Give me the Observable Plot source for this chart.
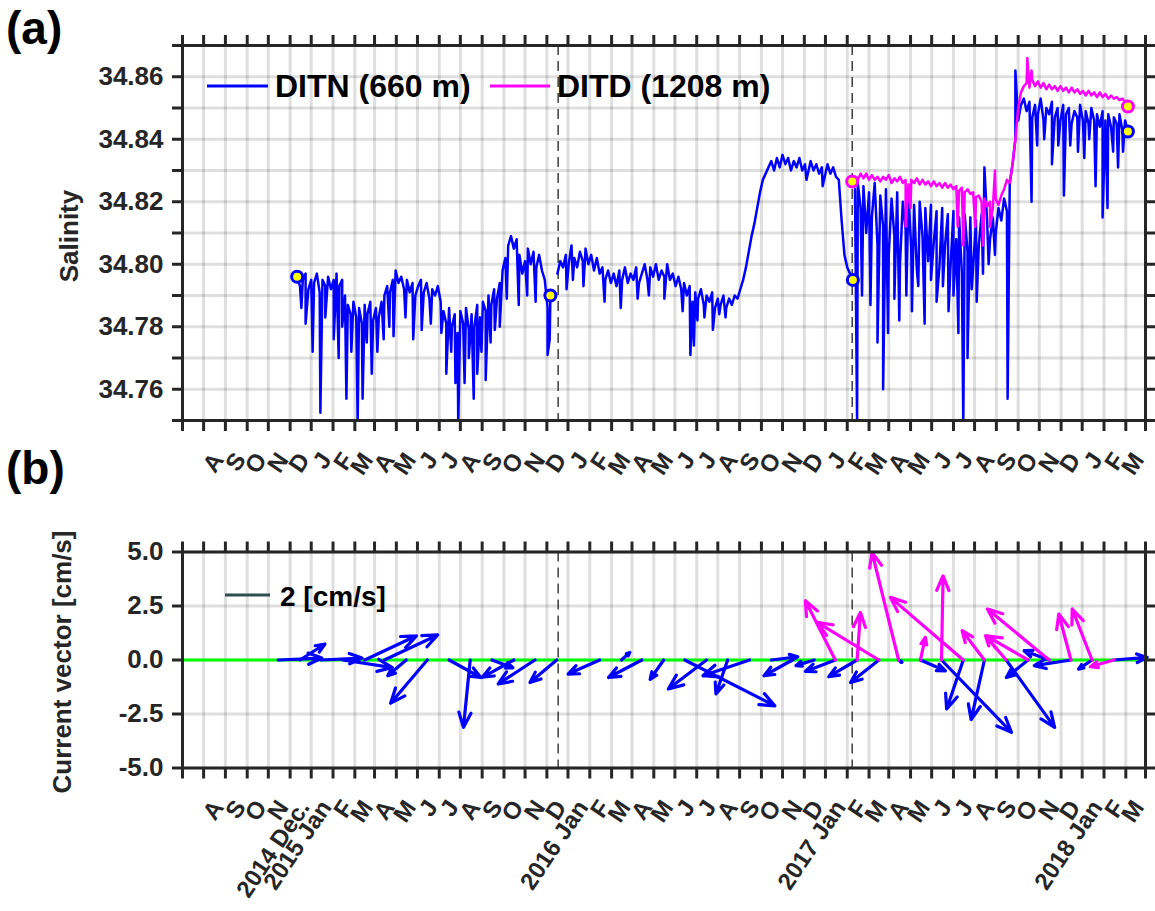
<!DOCTYPE html>
<html>
<head>
<meta charset="utf-8">
<script src="https://cdn.jsdelivr.net/npm/d3@7"></script>
<script src="https://cdn.jsdelivr.net/npm/@observablehq/plot@0.6"></script>
<style>
  html, body { margin: 0; padding: 0; background: #ffffff; }
  #chart { position: relative; width: 1155px; height: 911px; overflow: hidden; background: #ffffff;
           font-family: "Liberation Sans", Arial, Helvetica, sans-serif; }
  #panelA, #panelB { position: absolute; left: 0; }
  #panelA { top: 0; }
  #panelB { top: 530px; }
  #overlay { position: absolute; left: 0; top: 0; pointer-events: none; }
</style>
</head>
<body>
<div id="chart">
  <div id="panelA"></div>
  <div id="panelB"></div>
  <svg id="overlay" width="1155" height="911" font-family="Liberation Sans, Arial, Helvetica, sans-serif" font-weight="bold">
    <text x="6" y="44" font-size="46" fill="#000">(a)</text>
    <text x="6" y="484" font-size="46" fill="#000">(b)</text>
    <text transform="translate(78,236) rotate(-90)" text-anchor="middle" font-size="26" fill="#262626">Salinity</text>
    <text transform="translate(71,662) rotate(-90)" text-anchor="middle" font-size="26" fill="#262626">Current vector [cm/s]</text>
    <line x1="207" y1="86" x2="268" y2="86" stroke="#0000ff" stroke-width="3"/>
    <text x="275" y="97" font-size="32" fill="#000">DITN (660 m)</text>
    <line x1="490" y1="86" x2="550" y2="86" stroke="#ff00ff" stroke-width="3"/>
    <text x="557" y="97" font-size="32" fill="#000">DITD (1208 m)</text>
    <line x1="225" y1="595" x2="270" y2="595" stroke="#2f4f4f" stroke-width="3"/>
    <text x="280" y="606" font-size="28" fill="#000">2 [cm/s]</text>
  </svg>
</div>
<script>
// ---------------- axes / categories ----------------
const xStart = "2014-06-01";
const xEnd = "2018-03-01";
const firstLabelMonth = "2014-08-01";
const monthLetters = ["A","S","O","N","D",
  "J","F","M","A","M","J","J","A","S","O","N","D",
  "J","F","M","A","M","J","J","A","S","O","N","D",
  "J","F","M","A","M","J","J","A","S","O","N","D",
  "J","F","M"];
const monthLabelsB = ["A","S","O","N","2014 Dec.",
  "2015 Jan","F","M","A","M","J","J","A","S","O","N","D",
  "2016 Jan","F","M","A","M","J","J","A","S","O","N","D",
  "2017 Jan","F","M","A","M","J","J","A","S","O","N","D",
  "2018 Jan","F","M"];
const salinityTicks = [34.75,34.76,34.77,34.78,34.79,34.80,34.81,34.82,34.83,34.84,34.85,34.86,34.87];
const salinityLabelTicks = [34.76,34.78,34.80,34.82,34.84,34.86];
const currentTicks = [-5,-2.5,0,2.5,5];
const deploymentLines = ["2015-11-17","2017-01-08"];

// ---------------- salinity series (sampled every 4 days) ----------------
const sampleStepDays = 4;
const ditn1Start = "2014-11-11";
const ditn1Values = [
 34.796,34.793,34.795,34.797,34.792,34.795,34.794,34.797,34.791,34.795,
 34.793,34.796,34.792,34.795,34.797,34.793,34.795,34.790,34.787,34.784,
 34.788,34.783,34.786,34.781,34.787,34.784,34.788,34.782,34.786,34.783,
 34.788,34.790,34.793,34.791,34.795,34.798,34.794,34.796,34.792,34.795,
 34.791,34.794,34.790,34.793,34.795,34.791,34.794,34.789,34.792,34.790,
 34.793,34.788,34.785,34.781,34.786,34.780,34.784,34.778,34.785,34.781,
 34.786,34.779,34.784,34.780,34.787,34.783,34.788,34.785,34.790,34.787,
 34.792,34.789,34.794,34.798,34.802,34.806,34.809,34.805,34.808,34.803,
 34.797,34.801,34.805,34.800,34.804,34.799,34.803,34.798,34.795,34.786,
 34.790];
const ditn1SpikeDates = ["2014-11-17","2014-11-23","2014-12-03","2014-12-14","2014-12-21","2015-01-02","2015-01-09","2015-01-14","2015-01-20","2015-01-27","2015-02-05","2015-02-12","2015-02-18","2015-02-25","2015-03-05","2015-03-14","2015-03-22","2015-03-28","2015-04-14","2015-04-25","2015-05-07","2015-05-20","2015-06-04","2015-06-11","2015-06-18","2015-06-24","2015-06-28","2015-07-07","2015-07-13","2015-07-20","2015-07-25","2015-07-31","2015-08-06","2015-08-13","2015-08-19","2015-08-26","2015-09-05","2015-09-22","2015-10-04","2015-10-16","2015-11-02","2015-11-05"];
const ditn1SpikeValues = [34.786,34.781,34.772,34.7525,34.783,34.776,34.770,34.780,34.757,34.772,34.749,34.757,34.775,34.765,34.772,34.776,34.780,34.777,34.783,34.776,34.779,34.781,34.778,34.765,34.772,34.762,34.749,34.762,34.770,34.757,34.765,34.772,34.763,34.775,34.779,34.780,34.789,34.787,34.790,34.788,34.771,34.776];

const ditn2Start = "2015-11-16";
const ditn2Values = [
 34.797,34.801,34.799,34.803,34.800,34.806,34.802,34.799,34.804,34.801,
 34.805,34.800,34.803,34.798,34.802,34.797,34.799,34.795,34.798,34.794,
 34.797,34.793,34.798,34.795,34.799,34.794,34.797,34.795,34.799,34.794,
 34.797,34.800,34.795,34.799,34.796,34.800,34.795,34.798,34.796,34.800,
 34.795,34.797,34.793,34.796,34.792,34.794,34.790,34.793,34.788,34.791,
 34.789,34.792,34.787,34.790,34.788,34.791,34.786,34.789,34.787,34.790,
 34.786,34.789,34.787,34.790,34.789,34.792,34.795,34.799,34.804,34.809,
 34.813,34.818,34.823,34.827,34.829,34.831,34.833,34.830,34.834,34.831,
 34.835,34.832,34.834,34.830,34.833,34.831,34.834,34.830,34.832,34.829,
 34.833,34.830,34.832,34.829,34.831,34.828,34.832,34.829,34.831,34.828,
 34.827,34.814,34.803,34.799,34.797,34.795];
const ditn2SpikeDates = ["2015-11-29","2015-12-08","2015-12-23","2016-01-22","2016-02-14","2016-03-09","2016-03-25","2016-04-16","2016-05-12","2016-05-23","2016-05-28","2016-06-02","2016-06-12","2016-06-24","2016-07-03","2016-07-12","2016-11-04","2016-11-27"];
const ditn2SpikeValues = [34.792,34.795,34.793,34.788,34.786,34.789,34.790,34.789,34.785,34.771,34.774,34.782,34.783,34.779,34.784,34.783,34.827,34.825];

const ditn3Start = "2017-01-12";
const ditn3Values = [
 34.824,34.826,34.818,34.825,34.810,34.823,34.815,34.826,34.806,34.822,
 34.812,34.824,34.803,34.821,34.809,34.823,34.800,34.820,34.811,34.822,
 34.805,34.819,34.798,34.820,34.809,34.818,34.801,34.819,34.807,34.817,
 34.799,34.818,34.806,34.816,34.800,34.817,34.808,34.815,34.797,34.816,
 34.804,34.815,34.799,34.814,34.806,34.816,34.831,34.813,34.808,34.815,
 34.810,34.818,34.814,34.821,34.817,34.826,34.832,34.840,34.846,34.851,
 34.853,34.849,34.852,34.847,34.851,34.848,34.853,34.846,34.850,34.848,
 34.852,34.847,34.850,34.846,34.851,34.848,34.850,34.845,34.849,34.847,
 34.851,34.846,34.849,34.845,34.850,34.846,34.848,34.844,34.849,34.846,
 34.848,34.844,34.847,34.845,34.848,34.843,34.846,34.8425];
const ditn3SpikeDates = ["2017-01-15","2017-01-22","2017-02-03","2017-02-13","2017-02-21","2017-02-28","2017-03-09","2017-03-16","2017-03-26","2017-04-03","2017-04-12","2017-04-21","2017-04-30","2017-05-08","2017-05-17","2017-05-25","2017-06-01","2017-06-08","2017-06-15","2017-06-21","2017-06-27","2017-07-04","2017-07-13","2017-07-21","2017-07-30","2017-08-17","2017-08-28","2017-09-20","2017-09-28","2017-10-08","2017-10-19","2017-10-28","2017-11-05","2017-11-14","2017-11-25","2017-12-04","2017-12-11","2017-12-20","2017-12-30","2018-01-06","2018-01-14","2018-01-21","2018-01-28"];
const ditn3SpikeValues = [34.749,34.790,34.787,34.775,34.760,34.778,34.789,34.782,34.790,34.785,34.793,34.781,34.795,34.788,34.793,34.785,34.790,34.778,34.749,34.770,34.792,34.788,34.797,34.800,34.803,34.757,34.862,34.820,34.838,34.840,34.832,34.838,34.822,34.838,34.836,34.834,34.840,34.825,34.815,34.818,34.836,34.831,34.836];

const ditdStart = "2017-01-08";
const ditdValues = [
 34.8265,34.828,34.827,34.829,34.8275,34.829,34.827,34.8285,34.827,34.828,
 34.8265,34.828,34.827,34.8285,34.826,34.8275,34.8265,34.828,34.826,34.827,
 34.8255,34.827,34.826,34.8275,34.8255,34.827,34.8255,34.8265,34.825,34.8265,
 34.825,34.826,34.8245,34.826,34.8245,34.8255,34.824,34.825,34.8235,34.8245,
 34.823,34.824,34.8225,34.823,34.8215,34.822,34.820,34.821,34.8185,34.820,
 34.818,34.821,34.819,34.822,34.824,34.827,34.826,34.832,34.840,34.850,
 34.855,34.857,34.858,34.8565,34.859,34.857,34.8585,34.8565,34.858,34.856,
 34.8575,34.856,34.857,34.8555,34.857,34.8555,34.8565,34.855,34.8565,34.855,
 34.856,34.8545,34.8555,34.854,34.8555,34.854,34.855,34.8535,34.855,34.8535,
 34.8545,34.853,34.854,34.853,34.8535,34.8525,34.853,34.852,34.8505];
const ditdSpikeDates = ["2017-03-25","2017-04-01","2017-06-07","2017-06-15","2017-07-02","2017-07-13","2017-07-23","2017-07-30","2017-09-14","2017-09-20"];
const ditdSpikeValues = [34.812,34.818,34.812,34.806,34.812,34.806,34.812,34.830,34.866,34.862];

// ---------------- monthly current vectors (cm/s) ----------------
const blueArrowDates = ["2014-10-15","2014-11-15","2014-12-15","2015-01-15","2015-02-15","2015-03-15","2015-04-15","2015-05-15","2015-06-15","2015-07-15","2015-08-15","2015-09-15","2015-10-15","2015-11-15","2016-01-15","2016-02-15","2016-03-15","2016-04-15","2016-05-15","2016-06-15","2016-07-15","2016-08-15","2016-09-15","2016-10-15","2016-11-15","2016-12-15","2017-01-15","2017-02-15","2017-03-15","2017-04-15","2017-05-15","2017-06-15","2017-07-15","2017-08-15","2017-09-15","2017-10-15","2017-11-15","2017-12-15","2018-01-15"];
const blueU = [1.94,1.11,1.82,2.2,2.3,2.37,-0.82,-1.63,1.41,-0.3,0.93,-1.4,-1.63,-1.19,-1.4,0.37,-1.48,-0.6,4.0,-1.7,-0.52,-2.07,1.18,-1.26,-0.81,-1.33,-1.26,-1.26,0.15,1.11,3.11,-0.74,-0.59,2.15,-0.96,-1.11,-1.63,-0.6,1.48];
const blueV = [0.09,0.74,0.09,-0.35,1.12,1.16,-0.73,-2.0,-0.81,-3.12,-0.36,-0.8,-1.11,-1.04,-0.65,0.35,-0.81,-0.9,-2.12,-1.34,-1.57,-0.73,0.15,-0.73,-0.26,-0.53,-0.77,-1.04,-0.11,-0.5,-3.35,-2.27,-2.76,-3.12,-0.81,0.43,-0.26,-0.42,0.12];
const magentaArrowDates = ["2016-12-15","2017-01-15","2017-02-15","2017-03-15","2017-04-15","2017-05-15","2017-06-15","2017-07-15","2017-08-15","2017-09-15","2017-10-15","2017-11-15","2017-12-15","2018-01-15"];
const magentaU = [-1.33,0.15,-2.74,-1.18,0.22,0.07,-3.24,-0.99,-0.92,-1.85,-2.74,-0.54,-0.88,-1.04];
const magentaV = [2.75,2.2,1.74,4.98,1.05,3.9,2.9,1.36,1.12,1.12,2.36,2.13,2.36,-0.31];
const daysPerCmS = 32; // quiver scale: horizontal length of 1 cm/s, in days

// ---------------- build ----------------
const DAY = 864e5;
const parse = s => new Date(s + "T00:00:00Z");
function buildSeries(start, values, spikeDates, spikeValues) {
  const t0 = parse(start).getTime();
  const pts = values.map((v, i) => ({date: new Date(t0 + i * sampleStepDays * DAY), value: v}));
  spikeDates.forEach((d, i) => pts.push({date: parse(d), value: spikeValues[i]}));
  return pts.sort((a, b) => a.date - b.date);
}
const ends = (start, values) => {
  const t0 = parse(start).getTime();
  return [{date: new Date(t0), value: values[0]},
          {date: new Date(t0 + (values.length - 1) * sampleStepDays * DAY), value: values[values.length - 1]}];
};
const ditn1 = buildSeries(ditn1Start, ditn1Values, ditn1SpikeDates, ditn1SpikeValues);
const ditn2 = buildSeries(ditn2Start, ditn2Values, ditn2SpikeDates, ditn2SpikeValues);
const ditn3 = buildSeries(ditn3Start, ditn3Values, ditn3SpikeDates, ditn3SpikeValues);
const ditd = buildSeries(ditdStart, ditdValues, ditdSpikeDates, ditdSpikeValues);
const blueMarkers = [...ends(ditn1Start, ditn1Values), ends(ditn2Start, ditn2Values)[1], ends(ditn3Start, ditn3Values)[1]];
const pinkMarkers = ends(ditdStart, ditdValues);

const monthTicks = d3.utcMonth.range(parse(xStart), new Date(parse(xEnd).getTime() + DAY));
const labelMonths = d3.utcMonth.range(parse(firstLabelMonth), new Date(parse(xEnd).getTime() + DAY));
const dashDates = deploymentLines.map(parse);

const toArrows = (dates, U, V) => dates.map((d, i) => ({date: parse(d), u: U[i], v: V[i]}));
const blueArrows = toArrows(blueArrowDates, blueU, blueV);
const magentaArrows = toArrows(magentaArrowDates, magentaU, magentaV);

const font = "Liberation Sans, Arial, Helvetica, sans-serif";
const axisColor = "#262626";
const gridOpts = {stroke: axisColor, strokeOpacity: 0.15, strokeWidth: 3};
const xScale = {type: "utc", domain: [parse(xStart), parse(xEnd)], label: null};
const style = {background: "transparent", fontFamily: font, fontSize: "26px", fontWeight: "bold", color: axisColor, overflow: "visible"};

function frameAxes(yTicks, yLabelTicks, yFormat, labels) {
  return [
    Plot.frame({stroke: axisColor, strokeWidth: 3}),
    Plot.axisX({ticks: monthTicks, anchor: "bottom", tickSize: 11, stroke: axisColor, strokeWidth: 3, fill: "none", label: null}),
    Plot.axisX({ticks: monthTicks, anchor: "top", tickSize: 11, stroke: axisColor, strokeWidth: 3, fill: "none", label: null}),
    Plot.axisY({ticks: yTicks, anchor: "left", tickSize: 10, stroke: axisColor, strokeWidth: 3, fill: "none", label: null}),
    Plot.axisY({ticks: yTicks, anchor: "right", tickSize: 10, stroke: axisColor, strokeWidth: 3, fill: "none", label: null}),
    Plot.axisY({ticks: yLabelTicks, anchor: "left", tickSize: 0, tickPadding: 19, tickFormat: yFormat, fill: axisColor, fontSize: 26, fontWeight: "bold", label: null}),
    Plot.text(labelMonths, {x: d => d, text: (d, i) => labels[i], frameAnchor: "bottom", dx: -7, dy: 35,
      rotate: -56, textAnchor: "end", lineAnchor: "middle", fontSize: 24, fontWeight: "bold", fill: axisColor})
  ];
}

const lineOpts = {x: "date", y: "value", strokeWidth: 2.5, clip: true, strokeLinejoin: "round"};
const plotA = Plot.plot({
  width: 1155, height: 530,
  marginLeft: 182, marginRight: 10, marginTop: 45, marginBottom: 110,
  x: xScale,
  y: {domain: [34.75, 34.87], label: null},
  style,
  marks: [
    Plot.ruleX(monthTicks, gridOpts),
    Plot.ruleY(salinityTicks, gridOpts),
    Plot.ruleX(dashDates, {stroke: "#222", strokeWidth: 1.3, strokeDasharray: "10,6"}),
    Plot.line(ditn1, {...lineOpts, stroke: "#0000ff"}),
    Plot.line(ditn2, {...lineOpts, stroke: "#0000ff"}),
    Plot.line(ditn3, {...lineOpts, stroke: "#0000ff"}),
    Plot.line(ditd, {...lineOpts, stroke: "#ff00ff"}),
    Plot.dot(blueMarkers, {x: "date", y: "value", r: 5.5, fill: "#ffff00", stroke: "#0000ff", strokeWidth: 3}),
    Plot.dot(pinkMarkers, {x: "date", y: "value", r: 5.5, fill: "#ffff00", stroke: "#ff00ff", strokeWidth: 3}),
    ...frameAxes(salinityTicks, salinityLabelTicks, d => d.toFixed(2), monthLetters)
  ]
});
document.getElementById("panelA").appendChild(plotA);

const arrowOpts = {
  x1: "date", y1: () => 0,
  x2: d => new Date(d.date.getTime() + d.u * daysPerCmS * DAY), y2: "v",
  strokeWidth: 3.2, headLength: 7.5, headAngle: 45
};
const plotB = Plot.plot({
  width: 1155, height: 381,
  marginLeft: 182, marginRight: 10, marginTop: 21.5, marginBottom: 143.5,
  x: xScale,
  y: {domain: [-5, 5], label: null},
  style,
  marks: [
    Plot.ruleX(monthTicks, gridOpts),
    Plot.ruleY(currentTicks, gridOpts),
    Plot.ruleX(dashDates, {stroke: "#222", strokeWidth: 1.3, strokeDasharray: "10,6"}),
    Plot.ruleY([0], {stroke: "#00ff00", strokeWidth: 3}),
    Plot.arrow(blueArrows, {...arrowOpts, stroke: "#0000ff"}),
    Plot.arrow(magentaArrows, {...arrowOpts, stroke: "#ff00ff"}),
    ...frameAxes(currentTicks, currentTicks, d => d.toFixed(1), monthLabelsB)
  ]
});
document.getElementById("panelB").appendChild(plotB);
</script>
</body>
</html>
